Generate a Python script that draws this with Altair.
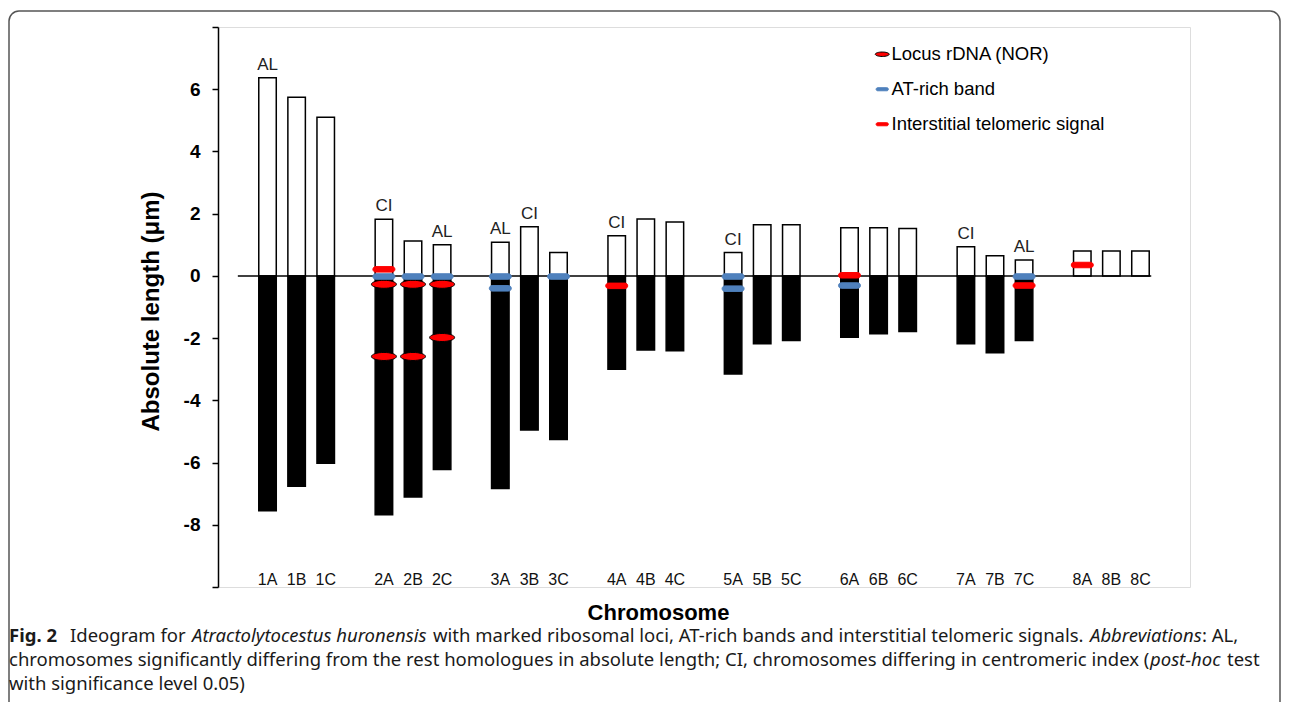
import altair as alt
import pandas as pd

# ---------------- data ----------------
chromosomes = ["1A", "1B", "1C", "2A", "2B", "2C", "3A", "3B", "3C", "4A", "4B", "4C",
               "5A", "5B", "5C", "6A", "6B", "6C", "7A", "7B", "7C", "8A", "8B", "8C"]
p_arm = [6.37, 5.74, 5.10, 1.82, 1.12, 1.00, 1.08, 1.58, 0.75, 1.29, 1.83, 1.73,
         0.75, 1.64, 1.64, 1.55, 1.55, 1.52, 0.94, 0.65, 0.51, 0.80, 0.80, 0.80]
q_arm = [-7.55, -6.76, -6.02, -7.68, -7.11, -6.22, -6.83, -4.95, -5.26, -3.00, -2.38, -2.41,
         -3.15, -2.18, -2.08, -1.97, -1.86, -1.79, -2.18, -2.47, -2.08, 0.0, 0.0, 0.0]

ann_chrom = ["1A", "2A", "2C", "3A", "3B", "4A", "5A", "7A", "7C"]
ann_text = ["AL", "CI", "AL", "AL", "CI", "CI", "CI", "CI", "AL"]

nor_chrom = ["2A", "2A", "2B", "2B", "2C", "2C"]
nor_pos = [-0.27, -2.59, -0.27, -2.59, -0.27, -1.98]
at_chrom = ["2A", "2B", "2C", "3A", "3A", "3C", "5A", "5A", "6A", "7C"]
at_pos = [-0.02, -0.02, -0.02, -0.02, -0.40, -0.02, -0.02, -0.41, -0.31, -0.02]
its_chrom = ["2A", "4A", "6A", "7C", "8A"]
its_pos = [0.21, -0.32, 0.02, -0.31, 0.35]

marker_types = ["Locus rDNA (NOR)", "AT-rich band", "Interstitial telomeric signal"]
y_ticks = [-10, -8, -6, -4, -2, 0, 2, 4, 6, 8]


def slot(c):
    return 4 * (int(c[0]) - 1) + "ABC".index(c[1])


bars = pd.DataFrame({"chrom": chromosomes, "slot": [slot(c) for c in chromosomes],
                     "p": p_arm, "q": q_arm})
p_lookup = dict(zip(chromosomes, p_arm))
ann = pd.DataFrame({"chrom": ann_chrom, "slot": [slot(c) for c in ann_chrom],
                    "p": [p_lookup[c] for c in ann_chrom], "label": ann_text})
markers = pd.DataFrame({
    "chrom": nor_chrom + at_chrom + its_chrom,
    "pos": nor_pos + at_pos + its_pos,
    "type": [marker_types[0]] * len(nor_chrom) + [marker_types[1]] * len(at_chrom)
            + [marker_types[2]] * len(its_chrom),
})
markers["slot"] = [slot(c) for c in markers["chrom"]]
one = pd.DataFrame({"a": [0]})

# ---------------- encodings ----------------
FONT = "Liberation Sans"
xscale = alt.Scale(domain=[-1.53, 31.53], nice=False, zero=False)
yscale = alt.Scale(domain=[-10, 8], nice=False, zero=False)
xaxis = alt.Axis(title="Chromosome", labels=False, ticks=False, domain=False, grid=False,
                 titleFont=FONT, titleFontSize=22, titleFontWeight="bold", titleColor="black",
                 titleX=440, titleY=32, titleBaseline="alphabetic", titleAlign="center")
yaxis = alt.Axis(title="Absolute length (μm)", values=y_ticks, grid=False,
                 labelExpr="datum.value == 8 || datum.value == -10 ? '' : '' + datum.value",
                 labelFont=FONT, labelFontSize=19, labelFontWeight="bold", labelColor="black",
                 labelPadding=12, tickSize=6, tickColor="black", tickWidth=1.5,
                 domainColor="black", domainWidth=1.5,
                 titleFont=FONT, titleFontSize=24, titleFontWeight="bold", titleColor="black",
                 titleAngle=-90, titleX=-67, titleY=284, titleBaseline="middle", titleAlign="center")


def X(f):
    return alt.X(f, type="quantitative", scale=xscale, axis=xaxis)


def Y(f):
    return alt.Y(f, type="quantitative", scale=yscale, axis=yaxis)


# ---------------- layers ----------------
p_bars = alt.Chart(bars).mark_bar(size=17.5, fill="white", stroke="black", strokeWidth=1.5).encode(
    x=X("slot"), y=Y("p"), y2=alt.datum(0))

q_bars = alt.Chart(bars).transform_filter("datum.q < 0").mark_bar(
    size=17.5, fill="black", stroke="black", strokeWidth=1.5).encode(
    x=X("slot"), y=Y("q"), y2=alt.datum(0))

zero_line = alt.Chart(one).mark_rule(color="black", strokeWidth=1.5).encode(
    x=alt.X(datum=-1.02, type="quantitative", scale=xscale, axis=xaxis),
    x2=alt.datum(30.37),
    y=alt.Y(datum=0, type="quantitative", scale=yscale, axis=yaxis))

ellipse = "M-1.136,0 A1.136,0.364 0 1 1 1.136,0 A1.136,0.364 0 1 1 -1.136,0 Z"
band = ("M-0.75,-0.25 L0.75,-0.25 A0.25,0.25 0 0 1 0.75,0.25 "
        "L-0.75,0.25 A0.25,0.25 0 0 1 -0.75,-0.25 Z")
leg = alt.Legend(title=None, orient="none", legendX=655, legendY=18,
                 labelFont=FONT, labelFontSize=18.5, labelColor="black", labelOffset=0,
                 labelLimit=0, rowPadding=16, symbolSize=150, symbolStrokeWidth=1)
mk = alt.Chart(markers).mark_point(filled=True, size=484, strokeWidth=1, opacity=1).encode(
    x=X("slot"), y=Y("pos"),
    shape=alt.Shape("type:N", scale=alt.Scale(domain=marker_types, range=[ellipse, band, band]),
                    legend=leg),
    fill=alt.Fill("type:N", scale=alt.Scale(domain=marker_types,
                                            range=["#ff0000", "#4f81bd", "#ff0000"]), legend=leg),
    stroke=alt.Stroke("type:N", scale=alt.Scale(domain=marker_types,
                                                range=["black", "#4f81bd", "#ff0000"]), legend=leg),
)

ann_text_layer = alt.Chart(ann).mark_text(font=FONT, fontSize=17, color="#222", dy=-8,
                                          baseline="alphabetic").encode(
    x=X("slot"), y=Y("p"), text="label:N")

cat_labels = alt.Chart(bars).mark_text(font=FONT, fontSize=16, color="#111",
                                       baseline="alphabetic").encode(
    x=X("slot"), y=alt.value(558), text="chrom:N")

frame = alt.Chart(one).mark_rect(filled=False, stroke="#555", strokeWidth=1.5,
                                 cornerRadius=10).encode(
    x=alt.value(-209), x2=alt.value(1062), y=alt.value(-16), y2=alt.value(760))

CAP = "Noto Sans"
CS = 18.5


def cap(text, px, py, weight="normal", style="normal"):
    # px, py given in page pixels; plot origin is at page (218, 27)
    return alt.Chart(one).mark_text(text=text, font=CAP, fontSize=CS, fontWeight=weight,
                                    fontStyle=style, align="left", baseline="alphabetic",
                                    color="#1a1a1a").encode(x=alt.value(px - 218),
                                                            y=alt.value(py - 27))


captions = [
    cap("Fig. 2", 9, 642, weight="bold"),
    cap("Ideogram for", 70, 642),
    cap("Atractolytocestus huronensis", 192, 642, style="italic"),
    cap("with marked ribosomal loci, AT-rich bands and interstitial telomeric signals.", 433, 642),
    cap("Abbreviations", 1090, 642, style="italic"),
    cap(": AL,", 1202, 642),
    cap("chromosomes significantly differing from the rest homologues in absolute length; "
        "CI, chromosomes differing in centromeric index (", 9, 666),
    cap("post-hoc", 1150, 666, style="italic"),
    cap("test", 1227, 666),
    cap("with significance level 0.05)", 9, 690),
]

chart = alt.layer(frame, p_bars, q_bars, zero_line, mk, ann_text_layer, cat_labels, *captions).properties(
    width=972, height=560,
    autosize=alt.AutoSizeParams(type="none"),
    padding={"left": 210, "top": 19, "right": 92, "bottom": 115},
).configure_view(stroke=None).configure(background="white")

chart.save("out.html", embed_options={"renderer": "svg", "actions": False})
